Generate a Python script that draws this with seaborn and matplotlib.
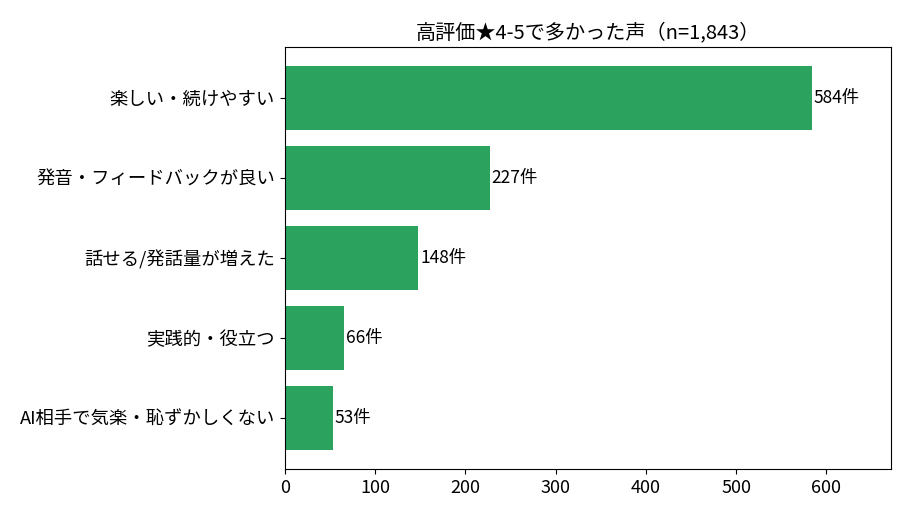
import matplotlib
matplotlib.use("Agg")
import matplotlib.pyplot as plt
import seaborn as sns
import pandas as pd

# 高評価レビューで多かった声
categories = ["楽しい・続けやすい", "発音・フィードバックが良い", "話せる/発話量が増えた",
              "実践的・役立つ", "AI相手で気楽・恥ずかしくない"]
counts = [584, 227, 148, 66, 53]
title = "高評価★4-5で多かった声（n=1,843）"

sns.set_style("ticks", {"axes.edgecolor": "black", "text.color": "black",
                        "xtick.color": "black", "ytick.color": "black"})
plt.rcParams['font.family'] = ['Noto Sans CJK JP', 'DejaVu Sans']

df = pd.DataFrame({"category": categories, "count": counts})

fig, ax = plt.subplots(figsize=(9.1, 5.2), dpi=100)
sns.barplot(data=df, y="category", x="count", color="#2ca25f", saturation=1,
            width=0.8, orient="h", linewidth=0, ax=ax)

for i, v in enumerate(counts):
    ax.text(v + 2, i, f"{v}件", va="center", ha="left", fontsize=12.5, color="black")

ax.set_xlim(0, max(counts) * 1.15)
ax.set_ylim(len(categories) - 1 + 0.64, -0.64)
ax.set_xlabel("")
ax.set_ylabel("")
ax.set_title(title, fontsize=14.5, color="black")
ax.tick_params(axis="y", labelsize=13.2)
ax.tick_params(axis="x", labelsize=13)

fig.subplots_adjust(left=0.313, right=0.979, bottom=0.098, top=0.91)
fig.savefig("out.png", dpi=100)
